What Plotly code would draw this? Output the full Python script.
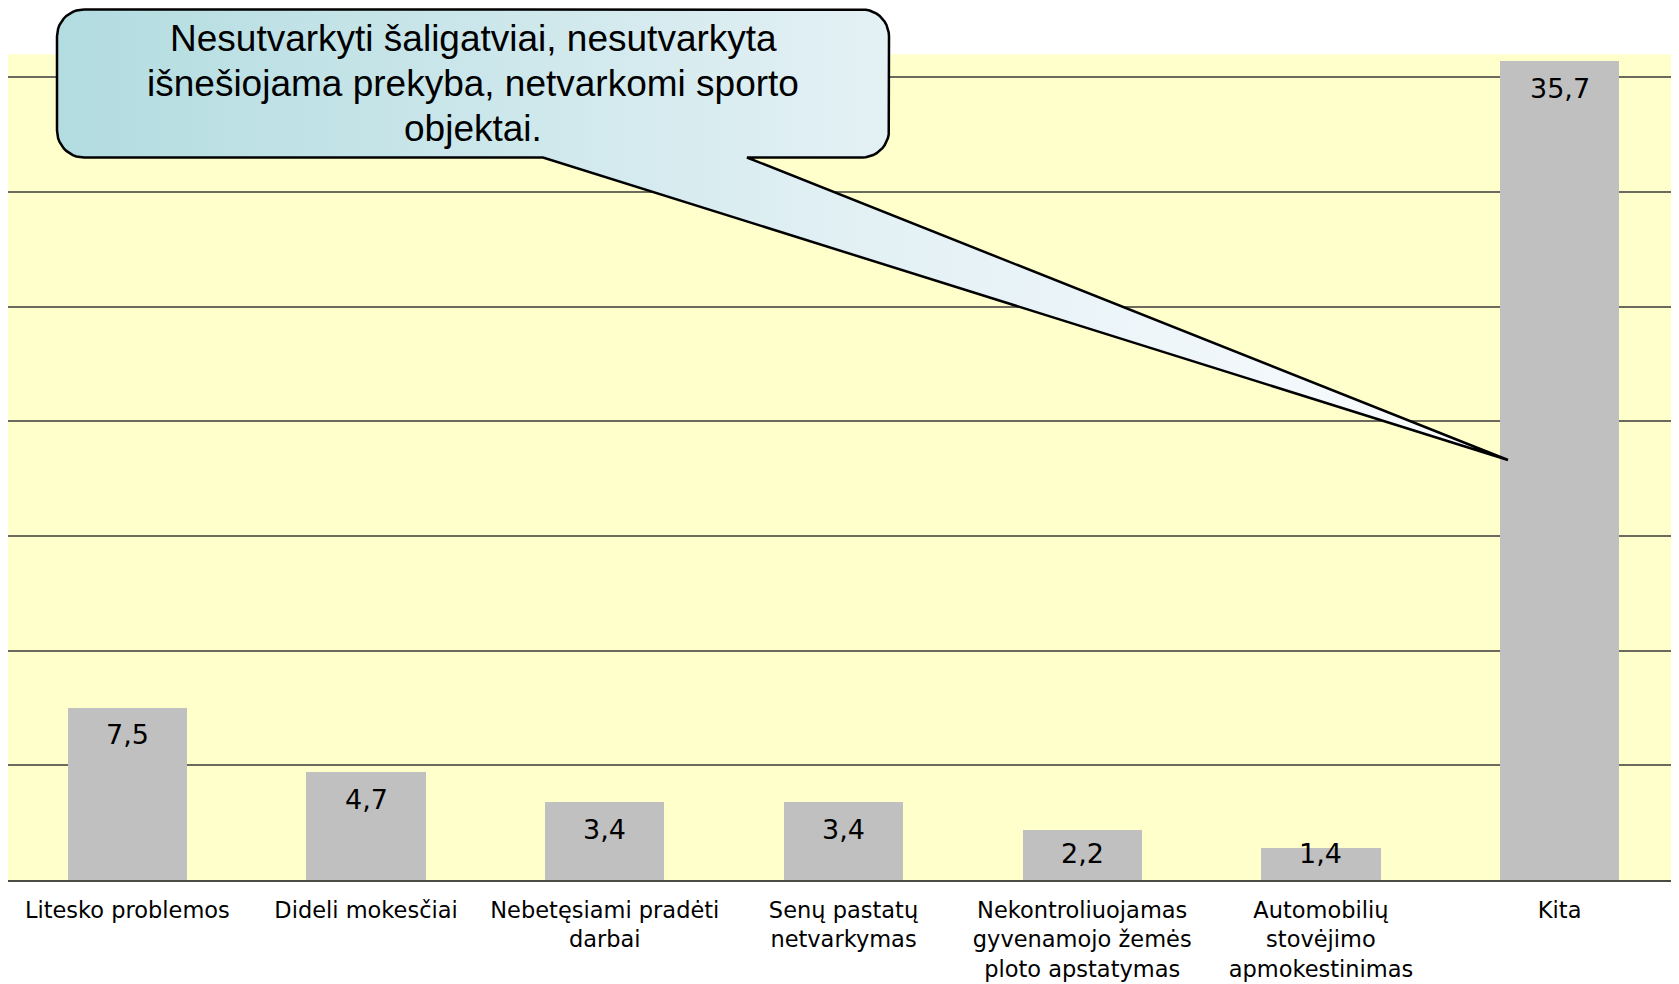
import numpy as np
import plotly.graph_objects as go

# ---------------- data ----------------
categories = [
    "Litesko problemos",
    "Dideli mokesčiai",
    "Nebetęsiami pradėti<br>darbai",
    "Senų pastatų<br>netvarkymas",
    "Nekontroliuojamas<br>gyvenamojo žemės<br>ploto apstatymas",
    "Automobilių<br>stovėjimo<br>apmokestinimas",
    "Kita",
]
values = [7.5, 4.7, 3.4, 3.4, 2.2, 1.4, 35.7]
value_labels = ["7,5", "4,7", "3,4", "3,4", "2,2", "1,4", "35,7"]
callout_lines = [
    "Nesutvarkyti šaligatviai, nesutvarkyta",
    "išnešiojama prekyba, netvarkomi sporto",
    "objektai.",
]
grid_ticks = [0, 5, 10, 15, 20, 25, 30, 35]

# ---------------- layout constants ----------------
W, H = 1671, 976
ML, MR, MT, MB = 0, 0, 0, 104
PLOT_H = H - MT - MB           # 872 px
PPU = 22.94                    # pixels per value unit
YMAX = PLOT_H / PPU
AREA_TOP = 36                  # top of the yellow plot area (value units)

FONT = "DejaVu Sans, Verdana, sans-serif"
GRID = "#6a6a5e"

fig = go.Figure()

fig.add_trace(go.Bar(
    x=list(range(len(categories))), y=values, width=0.5,
    marker=dict(color="#C0C0C0", line=dict(width=0)),
    hoverinfo="skip", showlegend=False,
))

# value labels near the inside top of each bar
for i, (v, lab) in enumerate(zip(values, value_labels)):
    top_px = v * PPU
    center_px = max(top_px - 27, 26)
    fig.add_annotation(
        x=i, y=v, xref="x", yref="y", text=lab, showarrow=False,
        yanchor="middle", yshift=center_px - top_px,
        font=dict(family=FONT, size=27, color="black"),
    )

# ---------------- callout (pixel coordinate overlay) ----------------
BX0, BX1, BY0, BY1, R = 49, 881, 1.4, 149.5, 27
TAIL_L, TAIL_R, TIP = 535, 739, (1500, 452)


def arc(cx, cy, a0, a1, n=12):
    t = np.linspace(a0, a1, n)
    return list(cx + R * np.cos(t)), list(cy + R * np.sin(t))


px, py = [], []
ax_, ay_ = arc(BX1 - R, BY0 + R, -np.pi / 2, 0)
px += [BX0 + R] + ax_
py += [BY0] + ay_
ax_, ay_ = arc(BX1 - R, BY1 - R, 0, np.pi / 2)
px += ax_
py += ay_
px += [TAIL_R, TIP[0], TAIL_L]
py += [BY1, TIP[1], BY1]
ax_, ay_ = arc(BX0 + R, BY1 - R, np.pi / 2, np.pi)
px += ax_
py += ay_
ax_, ay_ = arc(BX0 + R, BY0 + R, np.pi, 1.5 * np.pi)
px += ax_
py += ay_

fig.add_trace(go.Scatter(
    x=px, y=py, xaxis="x2", yaxis="y2", mode="lines",
    fill="toself",
    fillgradient=dict(type="horizontal",
                      colorscale=[[0, "#B2DCE0"], [0.55, "#E2F0F4"], [1, "#FBFCFF"]]),
    line=dict(color="black", width=2.5),
    hoverinfo="skip", showlegend=False,
))

line_y = [30.5, 75.5, 120.5]
for txt, yy in zip(callout_lines, line_y):
    fig.add_annotation(
        x=(BX0 + BX1) / 2, y=yy, xref="x2", yref="y2", text=txt,
        showarrow=False, xanchor="center", yanchor="middle",
        font=dict(family="Liberation Sans, Arial, sans-serif", size=37, color="black"),
    )

# yellow plot area
fig.add_shape(type="rect", xref="paper", yref="y", x0=0, x1=1, y0=0, y1=AREA_TOP,
              fillcolor="#FFFFCC", line=dict(width=0), layer="below")

fig.update_layout(
    width=W, height=H,
    margin=dict(l=ML, r=MR, t=MT, b=MB, pad=0, autoexpand=False),
    paper_bgcolor="white", plot_bgcolor="rgba(0,0,0,0)",
    showlegend=False, bargap=0,
    xaxis=dict(
        range=[-0.5, len(categories) - 0.5], automargin=False,
        tickmode="array", tickvals=list(range(len(categories))), ticktext=categories,
        tickfont=dict(family=FONT, size=22.5, color="black"),
        showgrid=False, zeroline=False, showline=True, linecolor="#4c4c44", linewidth=2,
        ticks="", ticklabelstandoff=9, fixedrange=True,
    ),
    yaxis=dict(
        range=[0, YMAX], tickmode="array", tickvals=grid_ticks, automargin=False,
        showticklabels=False, showgrid=True, gridcolor=GRID, gridwidth=1.5,
        zeroline=False, showline=False, ticks="", fixedrange=True,
    ),
    xaxis2=dict(overlaying="x", anchor="y2", range=[ML, W - MR], visible=False, fixedrange=True),
    yaxis2=dict(overlaying="y", anchor="x2", range=[PLOT_H, 0], visible=False, fixedrange=True),
)

fig.write_html("out.html")
